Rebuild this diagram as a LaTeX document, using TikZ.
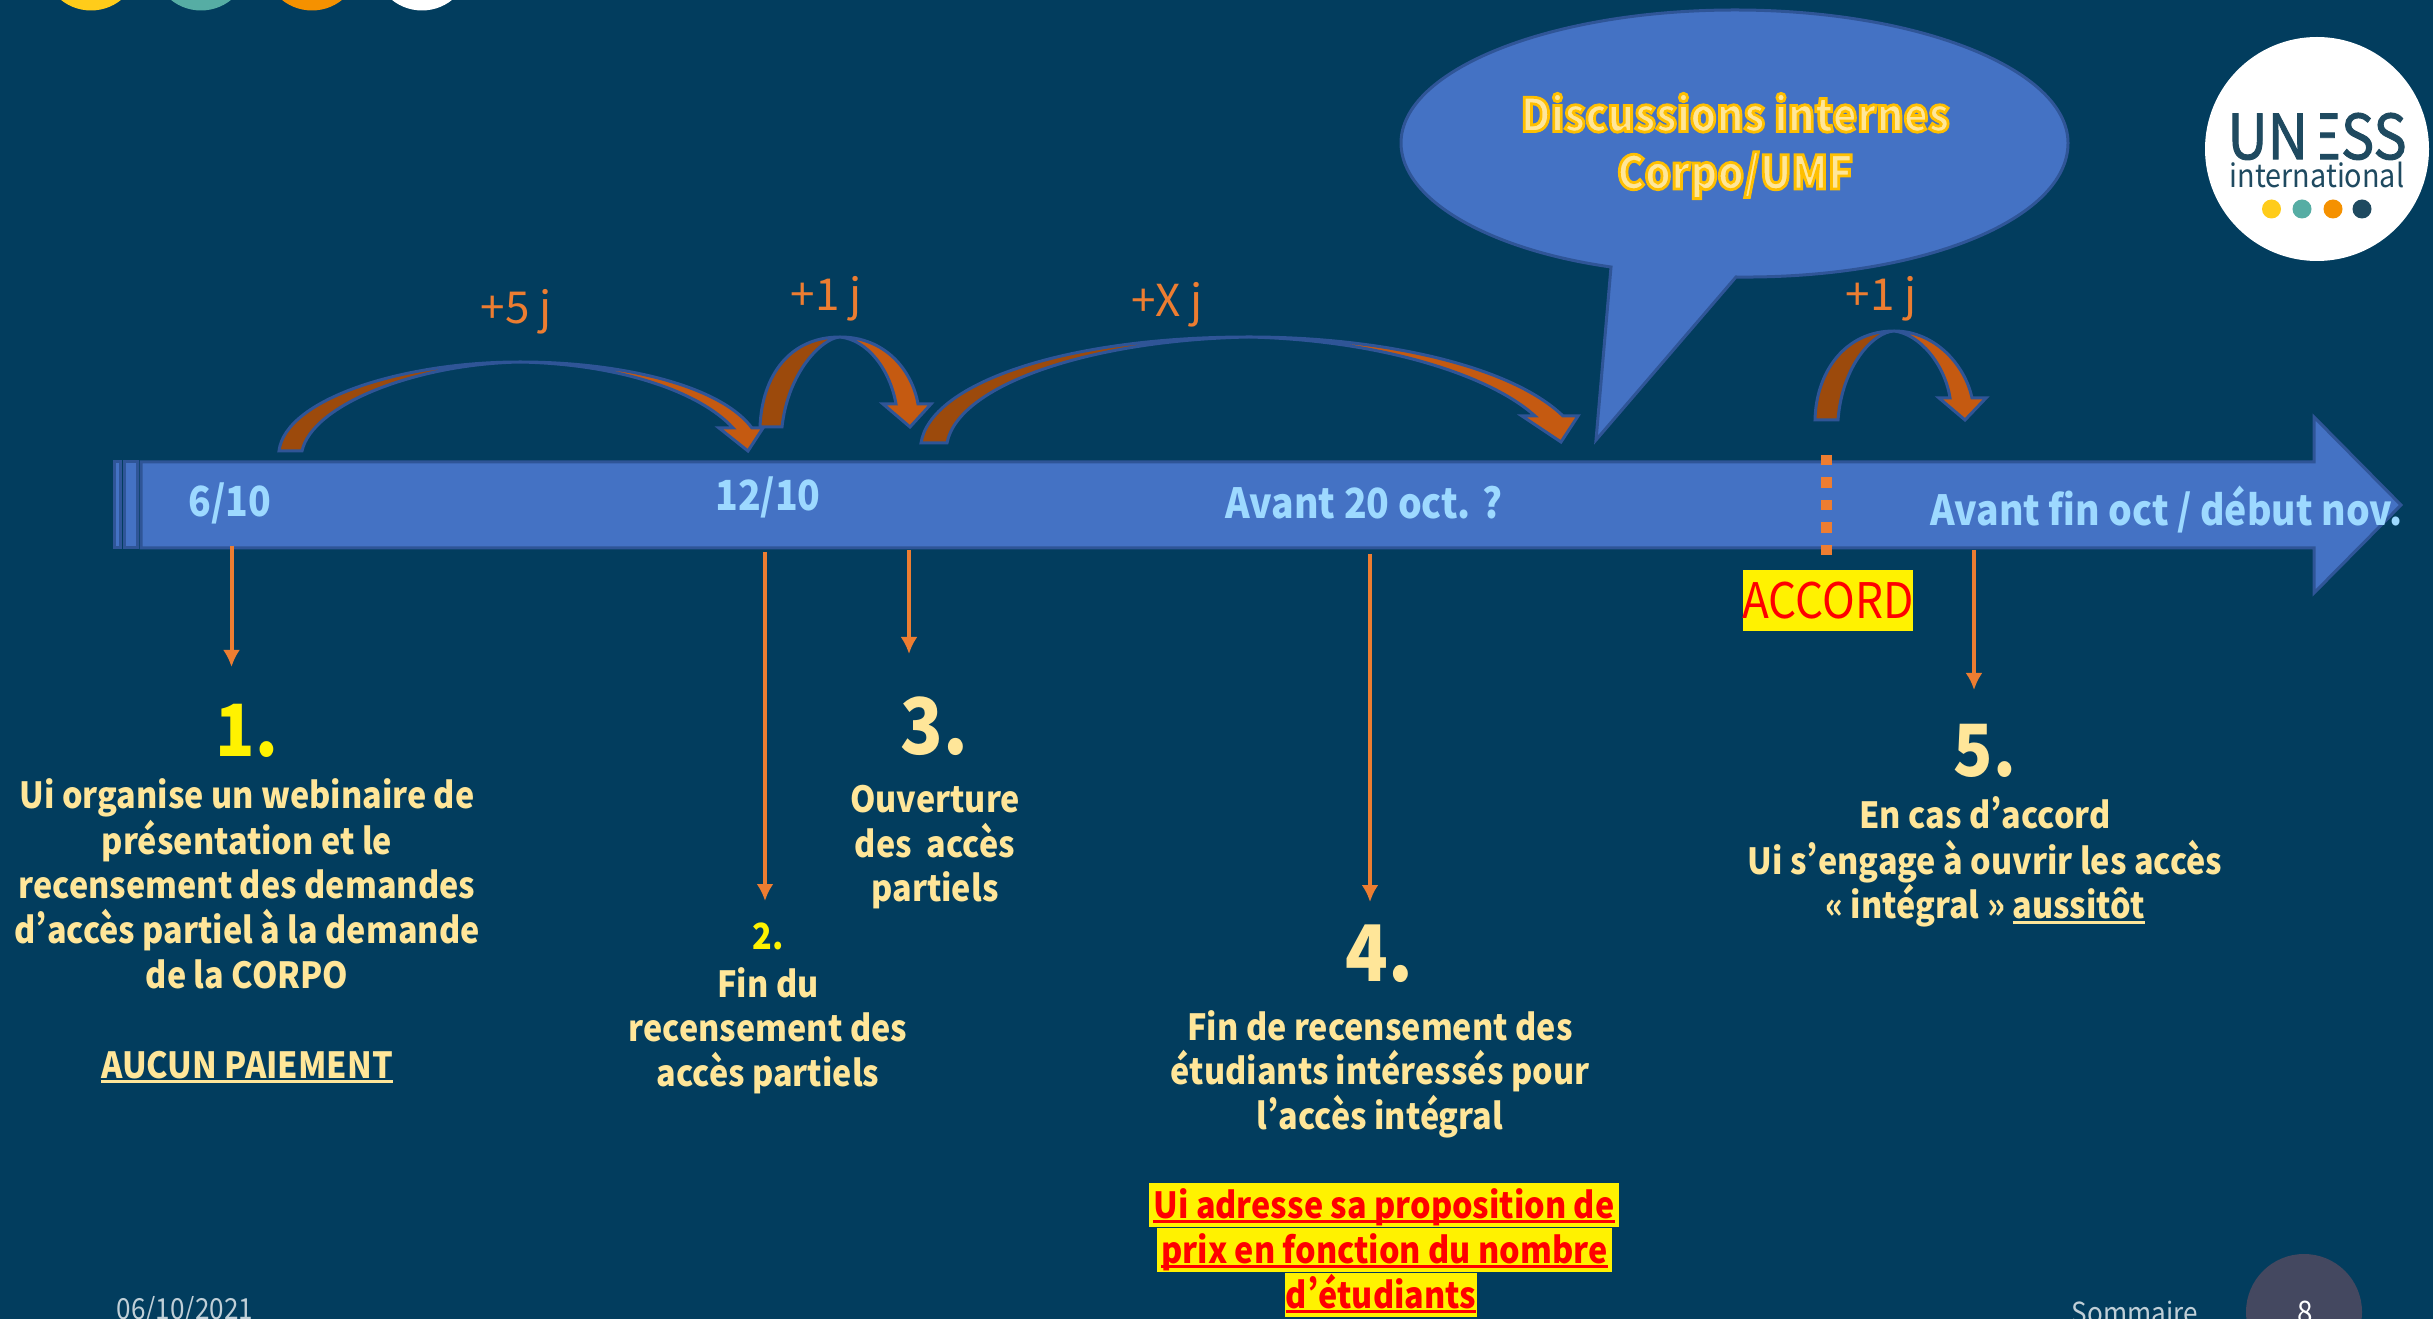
\documentclass[tikz,border=0pt]{standalone}
\usepackage{fontspec}
\usetikzlibrary{arrows.meta}
\setmainfont{Noto Sans CJK SC}[FakeStretch=0.9,RawFeature=+pwid]
\newfontfamily\plusf{Noto Sans CJK SC}[RawFeature=+pwid]
\definecolor{bg}{HTML}{023D5E}
\definecolor{barblue}{HTML}{4472C4}
\definecolor{edgeblue}{HTML}{2F5597}
\definecolor{dkor}{HTML}{9C4A0C}
\definecolor{ltor}{HTML}{C55A11}
\definecolor{orline}{HTML}{ED7D31}
\definecolor{cream}{HTML}{FFE699}
\definecolor{skyb}{HTML}{9DD9FF}
\definecolor{logoc}{HTML}{1F4A60}
\definecolor{dotY}{HTML}{FFCC1A}
\definecolor{dotT}{HTML}{56ADA4}
\definecolor{dotO}{HTML}{F59100}
\newcommand{\px}[1]{\fontsize{\dimexpr#1pt*2845/10000\relax}{\dimexpr#1pt*2845/10000*5/4\relax}\selectfont}
\newcommand{\ulx}[1]{\setbox0\hbox{#1}\makebox[0pt][l]{\rule[-0.13em]{\wd0}{0.075em}}#1}
\newcommand{\stemE}{\setbox0\hbox{E}\usebox0\makebox[0pt][r]{\textcolor{white}{\rule[-0.02em]{0.15em}{0.82em}}\hspace{\dimexpr\wd0-0.2em\relax}}}
\newcommand{\goldedge}{\addfontfeature{FakeBold=6}\special{pdf:code 1 0.75 0 RG}}
\tikzset{
  x=0.01cm,y=-0.01cm,
  body/.style={inner sep=0,text=cream,font=\px{36}\bfseries,anchor=center,text height=31*0.01cm,text depth=5*0.01cm},
  num/.style={inner sep=0,text=cream,font=\px{72}\bfseries,anchor=center},
  datel/.style={inner sep=0,text=skyb,font=\px{41.5}\bfseries,anchor=center},
  plus/.style={inner sep=0,text=orline,font=\plusf\px{44},anchor=center},
  warn/.style={inner sep=0,text=red,fill=yellow,font=\px{36}\bfseries,anchor=center,minimum height=44.5*0.01cm,text height=31*0.01cm,text depth=5*0.01cm},
  drop/.style={draw=orline,line width=4*0.01cm,-{Latex[length=17*0.01cm,width=17*0.01cm]}},
  shade1/.style={fill=dkor,draw=edgeblue,line width=3*0.01cm,line join=miter},
  shade2/.style={fill=ltor,draw=edgeblue,line width=3*0.01cm,line join=miter},
}
\begin{document}
\begin{tikzpicture}
\useasboundingbox (0,0) rectangle (2433,1319);
\clip (0,0) rectangle (2433,1319);
\fill[bg] (0,0) rectangle (2433,1319);
% top dots
\fill[dotY] (91,-37.5) circle (48);
\fill[dotT] (201,-37.5) circle (48);
\fill[dotO] (312,-37.5) circle (48);
\fill[white] (422,-37.5) circle (48);
% bar
\filldraw[fill=barblue,draw=edgeblue,line width=3*0.01cm] (114,462) rectangle (120,548);
\filldraw[fill=barblue,draw=edgeblue,line width=3*0.01cm] (124,462) rectangle (137,548);
\filldraw[fill=barblue,draw=edgeblue,line width=3*0.01cm] (141,462) -- (2314,462) -- (2314,417) -- (2401,505) -- (2314,593) -- (2314,548) -- (141,548) -- cycle;
% bubble
\filldraw[fill=barblue,draw=edgeblue,line width=3*0.01cm] (1611,267) -- (1596,440) -- (1736,277)
  .. controls (1920,279) and (2068,220) .. (2068,143)
  .. controls (2068,70) and (1920,10) .. (1735,10)
  .. controls (1550,10) and (1401,70) .. (1401,143)
  .. controls (1401,200) and (1490,250) .. (1611,267) -- cycle;
% curved arrows
\filldraw[shade1] (279,451) .. controls (285,400) and (400,362) .. (520,362) .. controls (415,364) and (312,405) .. (302,451) -- cycle;
\filldraw[shade2] (520,362) .. controls (620,362) and (720,385) .. (752,428) -- (763,428) -- (748,451) -- (719,428) -- (733,428) .. controls (700,392) and (620,364) .. (520,362) -- cycle;
\filldraw[shade1] (760,427) .. controls (762,375) and (790,337) .. (840,337) .. controls (822,338) and (788,372) .. (782,427) -- cycle;
\filldraw[shade2] (840,337) .. controls (885,337) and (912,370) .. (918,404) -- (931,404) -- (910,427) -- (883,404) -- (896,404) .. controls (890,370) and (868,340) .. (840,337) -- cycle;
\filldraw[shade1] (921,443) .. controls (930,385) and (1060,337) .. (1249,337) .. controls (1090,340) and (958,385) .. (947,443) -- cycle;
\filldraw[shade2] (1249,337) .. controls (1380,337) and (1510,365) .. (1563,416) -- (1578,416) -- (1561,442) -- (1522,416) -- (1535,416) .. controls (1490,375) and (1380,340) .. (1249,337) -- cycle;
\filldraw[shade1] (1815,420) .. controls (1816,372) and (1845,331) .. (1894,331) .. controls (1873,332) and (1842,366) .. (1838,420) -- cycle;
\filldraw[shade2] (1894,331) .. controls (1935,331) and (1965,365) .. (1972,398) -- (1986,398) -- (1965,420) -- (1939,398) -- (1950,398) .. controls (1945,365) and (1920,334) .. (1894,331) -- cycle;
% plus labels
\node[plus] (p5) at (516,312) {+5 j};
\node[plus] (p1) at (826,299) {+1 j};
\node[plus] (px) at (1167,305) {+X j};
\node[plus] (p1b) at (1881,299) {+1 j};
% date labels
\node[datel] (d1) at (230,503) {6/10};
\node[datel] (d2) at (768,497) {12/10};
\node[datel] (d3) at (1364,503) {Avant 20 oct. ?};
\node[datel,anchor=west] (d4) at (1930,510) {Avant fin oct / début nov.};
% orange arrows
\coordinate (a1s) at (231.5,546); \coordinate (a1e) at (231.5,667);
\coordinate (a2s) at (765,552);   \coordinate (a2e) at (765,901);
\coordinate (a3s) at (909,550);   \coordinate (a3e) at (909,654);
\coordinate (a4s) at (1370,554);  \coordinate (a4e) at (1370,902);
\coordinate (a5s) at (1974,550);  \coordinate (a5e) at (1974,690);
\draw[drop] (a1s) -- (a1e);
\draw[drop] (a2s) -- (a2e);
\draw[drop] (a3s) -- (a3e);
\draw[drop] (a4s) -- (a4e);
\draw[drop] (a5s) -- (a5e);
% dashed accord
\coordinate (acs) at (1826,455); \coordinate (ace) at (1826,557);
\draw[orline,line width=11*0.01cm,dash pattern=on 10.5*0.01cm off 12*0.01cm] (acs) -- (ace);
\node[inner sep=0,fill=yellow,text=red,font=\px{49},minimum width=170*0.01cm,minimum height=61*0.01cm] (acc) at (1828,601) {ACCORD};
% bubble text
\node[inner sep=0,font=\px{46}\bfseries,align=center,text=cream] (disc) at (1735,146) {%
  \goldedge Discussions internes\\\goldedge Corpo/UMF};
% logo
\fill[white] (2317,149) circle (112);
\node[inner sep=0,text=logoc,font=\px{62}\addfontfeature{FakeBold=1.5}] (un) at (2317,135) {UN\stemE SS};
\node[inner sep=0,text=logoc,font=\px{32}] (intl) at (2317,175) {international};
\fill[dotY] (2271.5,209) circle (9.5);
\fill[dotT] (2302,209) circle (9.5);
\fill[dotO] (2333,209) circle (9.5);
\fill[logoc] (2362,209) circle (9.5);
% step 1
\node[num,text=yellow] (n1) at (247,731) {1.};
\node[body] (t11) at (247,796) {Ui organise un webinaire de};
\node[body] (t12) at (247,841) {présentation et le};
\node[body] (t13) at (247,885) {recensement des demandes};
\node[body] (t14) at (247,930) {d’accès partiel à la demande};
\node[body] (t15) at (247,975) {de la CORPO};
\node[body] (t16) at (247,1065) {\ulx{AUCUN PAIEMENT}};
% step 2
\node[body,text=yellow] (n2) at (768,936) {2.};
\node[body] (t21) at (768,984) {Fin du};
\node[body] (t22) at (768,1028) {recensement des};
\node[body] (t23) at (768,1073) {accès partiels};
% step 3
\node[num,font=\px{78}\bfseries] (n3) at (934,726) {3.};
\node[body] (t31) at (935,799) {Ouverture};
\node[body] (t32) at (935,844) {des~ accès};
\node[body] (t33) at (935,888) {partiels};
% step 4
\node[num,font=\px{78}\bfseries] (n4) at (1379,954) {4.};
\node[body] (t41) at (1380,1027) {Fin de recensement des};
\node[body] (t42) at (1380,1071) {étudiants intéressés pour};
\node[body] (t43) at (1380,1116) {l’accès intégral};
\node[warn,minimum width=470*0.01cm] (w1) at (1384,1205) {\ulx{Ui adresse sa proposition de}};
\node[warn,minimum width=455*0.01cm] (w2) at (1384.5,1250) {\ulx{prix en fonction du nombre}};
\node[warn,minimum width=192*0.01cm] (w3) at (1381,1295) {\ulx{d’étudiants}};
% step 5
\node[num] (n5) at (1985,751) {5.};
\node[body] (t51) at (1985,816) {En cas d’accord};
\node[body] (t52) at (1985,861) {Ui s’engage à ouvrir les accès};
\node[body] (t53) at (1985,906) {« intégral » \ulx{aussitôt}};
% footer
\node[inner sep=0,text=white!75!bg,font=\px{29},anchor=west] (date) at (116,1311) {06/10/2021};
\node[inner sep=0,text=white!75!bg,font=\px{29},anchor=west] (somm) at (2071,1312) {Sommaire};
\fill[fill={rgb,255:red,68;green,72;blue,96}] (2304,1312) circle (58);
\node[inner sep=0,text=white,font=\px{31}] (pg) at (2305,1312) {8};
\end{tikzpicture}
\end{document}
